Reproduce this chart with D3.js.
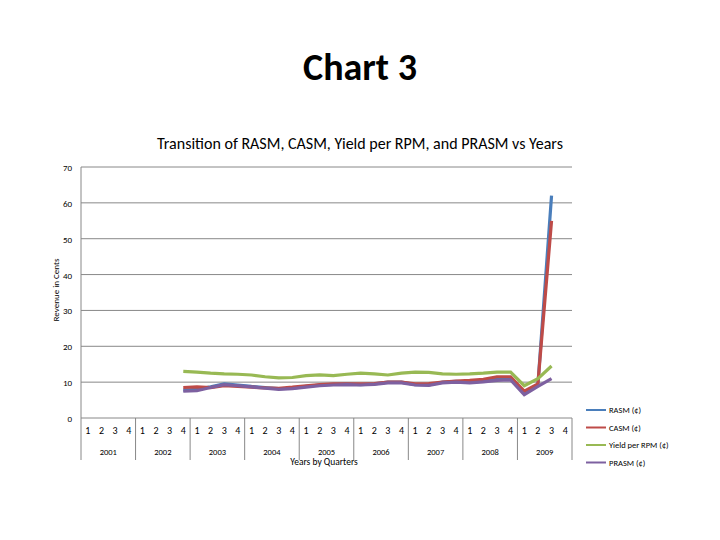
<!DOCTYPE html><html><head><meta charset="utf-8"><script src="https://cdn.jsdelivr.net/npm/d3@7"></script>
<style>body{margin:0;background:#fff}svg{font-family:Calibri,Carlito,"Liberation Sans",sans-serif}</style></head><body><svg width="720" height="540"></svg>
<script>
const years=["2001","2002","2003","2004","2005","2006","2007","2008","2009"];
const quarters=["1","2","3","4"];
const yTicks=[0,10,20,30,40,50,60,70];
const startIndex=7;
const rasm=[7.8,8.0,8.7,9.5,9.2,8.8,8.5,8.2,8.3,8.8,9.2,9.4,9.5,9.3,9.5,10.0,10.0,9.3,9.2,10.0,10.2,10.0,10.3,10.8,11.0,7.0,9.3,62];
const casm=[8.5,8.7,8.5,9.0,8.8,8.6,8.4,8.3,8.6,9.0,9.3,9.5,9.5,9.5,9.6,10.0,10.0,9.5,9.6,10.0,10.3,10.5,10.8,11.5,11.5,7.5,9.5,55];
const yieldRpm=[13.0,12.8,12.5,12.3,12.2,12.0,11.5,11.2,11.3,11.8,12.0,11.8,12.2,12.5,12.3,12.0,12.5,12.8,12.7,12.3,12.2,12.3,12.5,12.8,12.8,9.0,11.0,14.5];
const prasm=[7.5,7.6,8.5,9.3,9.0,8.7,8.3,8.0,8.2,8.6,9.0,9.2,9.3,9.2,9.4,9.8,9.8,9.2,9.1,9.8,10.0,9.8,10.1,10.5,10.6,6.5,8.8,11.0];
const series=[["RASM (¢)",rasm,"#4a7ebb"],["CASM (¢)",casm,"#be4b48"],["Yield per RPM (¢)",yieldRpm,"#98b954"],["PRASM (¢)",prasm,"#7d60a0"]];
const svg=d3.select("svg");
const cats=[];years.forEach(y=>quarters.forEach(q=>cats.push(y+"-"+q)));
const x=d3.scaleBand().domain(cats).range([81,572]);
const y=d3.scaleLinear().domain([0,70]).range([418,167]);
svg.append("text").attr("x",360).attr("y",80).attr("text-anchor","middle").attr("font-size",38).attr("font-weight","bold").text("Chart 3");
svg.append("text").attr("x",360).attr("y",149).attr("text-anchor","middle").attr("font-size",16).text("Transition of RASM, CASM, Yield per RPM, and PRASM vs Years");
svg.append("g").selectAll("line").data(yTicks.slice(1)).join("line").attr("x1",81).attr("x2",572).attr("y1",d=>y(d)).attr("y2",d=>y(d)).attr("stroke","#888").attr("stroke-width",1);
svg.append("g").selectAll("text").data(yTicks).join("text").attr("x",72).attr("y",d=>y(d)+4).attr("text-anchor","end").attr("font-size",9).text(d=>d);
svg.append("line").attr("x1",81).attr("x2",572).attr("y1",418).attr("y2",418).attr("stroke","#888");
svg.append("line").attr("x1",81).attr("x2",81).attr("y1",167).attr("y2",418).attr("stroke","#888");
svg.append("text").attr("transform","translate(59,290) rotate(-90)").attr("text-anchor","middle").attr("font-size",9).text("Revenue in Cents");
const g=svg.append("g");
g.selectAll("text.q").data(cats).join("text").attr("x",d=>x(d)+x.bandwidth()/2).attr("y",434).attr("text-anchor","middle").attr("font-size",10).text(d=>d.split("-")[1]);
g.selectAll("text.y").data(years).join("text").attr("x",d=>x(d+"-1")+x.bandwidth()*2).attr("y",455).attr("text-anchor","middle").attr("font-size",8.5).text(d=>d);
const seps=years.map(d=>x(d+"-1")).concat([572]);
g.selectAll("line.s").data(seps).join("line").attr("x1",d=>d).attr("x2",d=>d).attr("y1",418).attr("y2",460).attr("stroke","#888");
svg.append("text").attr("x",324).attr("y",465).attr("text-anchor","middle").attr("font-size",9.5).text("Years by Quarters");
const line=d3.line().x((d,i)=>x(cats[startIndex+i])+x.bandwidth()/2).y(d=>y(d));
series.forEach(s=>svg.append("path").attr("d",line(s[1])).attr("fill","none").attr("stroke",s[2]).attr("stroke-width",3.2));
const lg=svg.append("g").selectAll("g").data(series).join("g").attr("transform",(d,i)=>`translate(586,${410+i*17.5})`);
lg.append("line").attr("x1",0).attr("x2",20).attr("stroke",d=>d[2]).attr("stroke-width",2);
lg.append("text").attr("x",23).attr("y",3).attr("font-size",8.5).text(d=>d[0]);
</script></body></html>
